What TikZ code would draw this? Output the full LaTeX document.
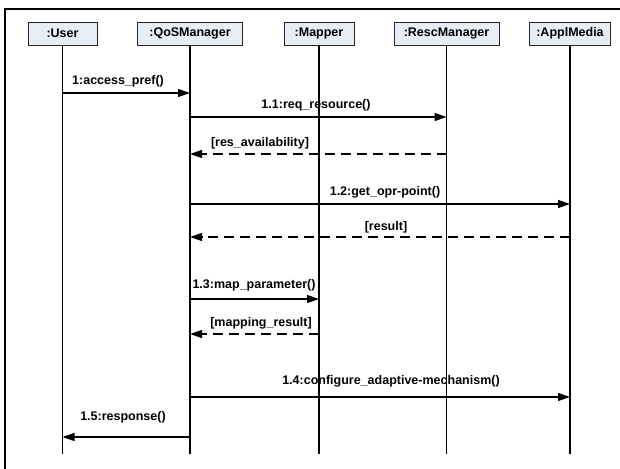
\documentclass[tikz,border=0pt]{standalone}
\usepackage{fontspec}
\setmainfont{Liberation Sans}
\usetikzlibrary{arrows.meta}
\definecolor{boxfill}{HTML}{E8EEF8}
\begin{document}
\begin{tikzpicture}[x=1pt,y=1pt,
  obj/.style={draw=black!85,line width=0.8pt,fill=boxfill,minimum height=23pt,inner sep=0pt,font=\fontsize{12.5}{15}\selectfont\bfseries},
  life/.style={line width=1.1pt},
  msg/.style={line width=1.2pt,-{Triangle[length=12pt,width=8pt]}},
  ret/.style={msg,dash pattern=on 10pt off 6pt},
  lbl/.style={inner sep=0pt,font=\fontsize{12.5}{15}\selectfont\bfseries}]
\useasboundingbox (0,0) rectangle (620,468);
\draw[line width=1.4pt] (5,-10) rectangle (630,459);
% objects
\node[obj,minimum width=69pt]  (u) at (62.5,434.5) {:User};
\node[obj,minimum width=105pt] (q) at (190,434.5) {:QoSManager};
\node[obj,minimum width=70pt]  (m) at (319,434.5) {:Mapper};
\node[obj,minimum width=105pt] (r) at (446.5,434.5) {:RescManager};
\node[obj,minimum width=81pt]  (a) at (570,434.5) {:ApplMedia};
% lifelines
\foreach \n in {u,q,m,r,a} {
  \coordinate (\n end) at (\n |- 0,14);
  \draw[life] (\n.south) -- (\n end);
}
% messages
\draw[msg] (u |- 0,375) -- (q |- 0,375);
\node[lbl,anchor=west] (l1) at (72,387) {1:access\_pref()};
\draw[msg] (q |- 0,351) -- (r |- 0,351);
\node[lbl] (l11) at (316,363) {1.1:req\_resource()};
\draw[ret] (r |- 0,314) -- (q |- 0,314);
\node[lbl] (l11r) at (260,325) {[res\_availability]};
\draw[msg] (q |- 0,264) -- (a |- 0,264);
\node[lbl] (l12) at (385,276) {1.2:get\_opr-point()};
\draw[ret] (a |- 0,231) -- (q |- 0,231);
\node[lbl] (l12r) at (386,241) {[result]};
\draw[msg] (q |- 0,169) -- (m |- 0,169);
\node[lbl] (l13) at (254,183) {1.3:map\_parameter()};
\draw[ret] (m |- 0,134) -- (q |- 0,134);
\node[lbl] (l13r) at (261,145) {[mapping\_result]};
\draw[msg] (q |- 0,71) -- (a |- 0,71);
\node[lbl] (l14) at (391,87) {1.4:configure\_adaptive-mechanism()};
\draw[msg] (q |- 0,31) -- (u |- 0,31);
\node[lbl] (l15) at (123,51) {1.5:response()};
\end{tikzpicture}
\end{document}
